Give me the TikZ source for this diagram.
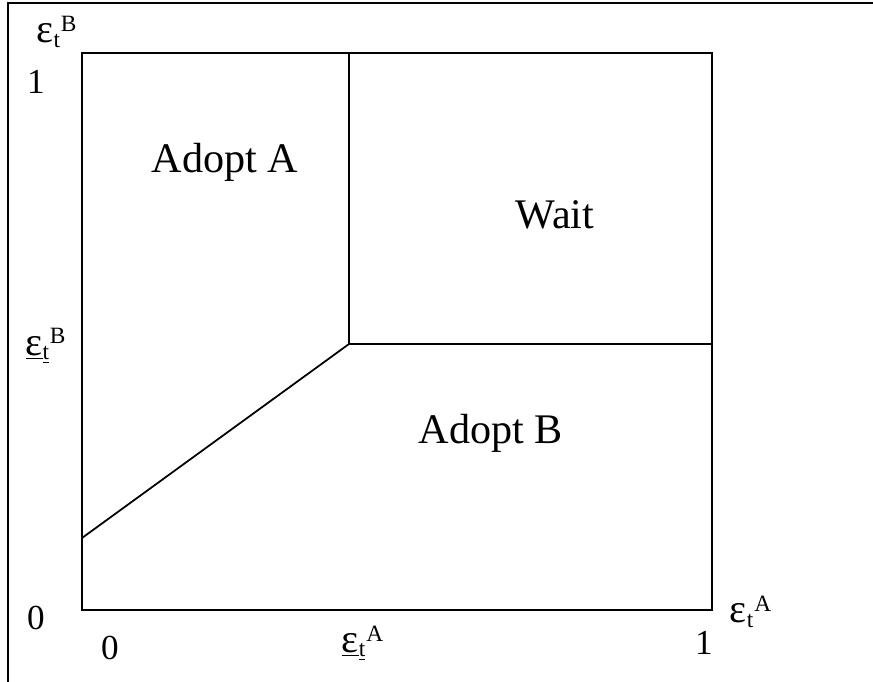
\documentclass[tikz,border=0pt]{standalone}
\usepackage{fontspec}
\setmainfont{Liberation Serif}
\usetikzlibrary{positioning}

\newcommand{\epsgl}{{\fontsize{23}{24}\selectfont ε}}
\newcommand{\epst}[1]{\epsgl\textsubscript{t}\textsuperscript{#1}}
\newcommand{\epsunder}[1]{\underline{\epsgl}\textsubscript{\underline{t}}\textsuperscript{#1}}

\begin{document}
\begin{tikzpicture}[
                x=0.02cm, y=-0.02cm,
                edge/.style={line width=1pt, color=black},
                region/.style={font=\fontsize{24}{28}\selectfont, inner sep=0pt},
                tick/.style={font=\fontsize{20}{22}\selectfont, inner sep=0pt},
                axis/.style={font=\fontsize{19}{21}\selectfont, inner sep=0pt}
            ]
                \useasboundingbox (0,0) rectangle (873,682);
                % outer frame (cut off at the right and bottom)
                \draw[edge] (8,682) -- (8,3) -- (873,3);
                % unit square and the three borders
                \coordinate (ll)   at (82,610);
                \coordinate (ur)   at (712,53);
                \coordinate (kink) at (349,344);
                \coordinate (top)  at (349,53);
                \coordinate (rgt)  at (712,344);
                \coordinate (lft)  at (82,538);
                \draw[edge] (ll) rectangle (ur);
                \draw[edge] (top) -- (kink) -- (rgt);
                \draw[edge] (lft) -- (kink);
                % regions
                \node[region] (adoptA) at (225,162) {Adopt A};
                \node[region] (wait)   at (555,215) {Wait};
                \node[region] (adoptB) at (491,433) {Adopt B};
                % ticks
                \node[tick] (one1)  at (36,82)   {1};
                \node[tick] (zero1) at (36,618)  {0};
                \node[tick] (zero2) at (110,648) {0};
                \node[tick] (one2)  at (704,643) {1};
                % axis labels
                \node[axis] (epsB)  at (57,32)   {\epst{B}};
                \node[axis] (lowB)  at (46,346)  {\epsunder{B}};
                \node[axis] (lowA)  at (363,643) {\epsunder{A}};
                \node[axis] (epsA)  at (751,612) {\epst{A}};
            \end{tikzpicture}
\end{document}
